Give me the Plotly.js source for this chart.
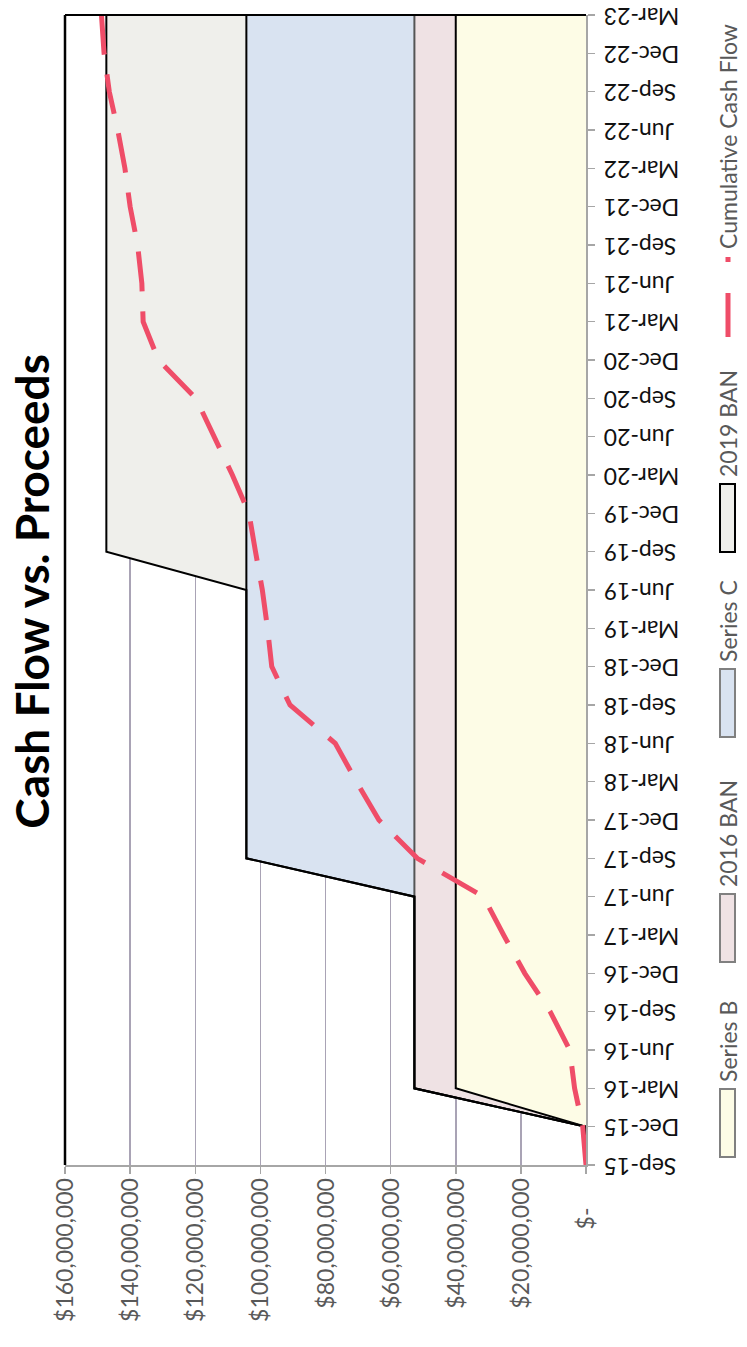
<!DOCTYPE html>
<html>
<head>
<meta charset="utf-8">
<script src="https://cdn.plot.ly/plotly-3.0.1.min.js"></script>
<style>
html,body{margin:0;padding:0;overflow:hidden;background:#fff;width:747px;height:1347px;}
#wrap{position:absolute;left:0;top:0;width:1347px;height:747px;transform-origin:0 0;transform:translate(0px,1347px) rotate(-90deg);}
#chart{width:1347px;height:747px;}
</style>
</head>
<body>
<div id="wrap"><div id="chart"></div></div>
<script>
// Quarter-end categories
const quarters = ["Sep-15","Dec-15","Mar-16","Jun-16","Sep-16","Dec-16","Mar-17","Jun-17","Sep-17","Dec-17",
  "Mar-18","Jun-18","Sep-18","Dec-18","Mar-19","Jun-19","Sep-19","Dec-19","Mar-20","Jun-20",
  "Sep-20","Dec-20","Mar-21","Jun-21","Sep-21","Dec-21","Mar-22","Jun-22","Sep-22","Dec-22","Mar-23"];

// Stacked proceeds (USD)
const seriesB = [0,0,40000000,40000000,40000000,40000000,40000000,40000000,40000000,40000000,
  40000000,40000000,40000000,40000000,40000000,40000000,40000000,40000000,40000000,40000000,
  40000000,40000000,40000000,40000000,40000000,40000000,40000000,40000000,40000000,40000000,40000000];
const ban2016 = [0,0,12700000,12700000,12700000,12700000,12700000,12700000,12700000,12700000,
  12700000,12700000,12700000,12700000,12700000,12700000,12700000,12700000,12700000,12700000,
  12700000,12700000,12700000,12700000,12700000,12700000,12700000,12700000,12700000,12700000,12700000];
const seriesC = [0,0,0,0,0,0,0,0,51600000,51600000,
  51600000,51600000,51600000,51600000,51600000,51600000,51600000,51600000,51600000,51600000,
  51600000,51600000,51600000,51600000,51600000,51600000,51600000,51600000,51600000,51600000,51600000];
const ban2019 = [0,0,0,0,0,0,0,0,0,0,
  0,0,0,0,0,0,43000000,43000000,43000000,43000000,
  43000000,43000000,43000000,43000000,43000000,43000000,43000000,43000000,43000000,43000000,43000000];

// Cumulative cash flow (USD)
const cumulative = [0,1000000,3500000,5000000,11000000,18800000,25300000,31500000,51800000,63600000,
  70500000,77000000,90900000,96500000,97800000,99400000,101500000,103500000,108600000,114200000,
  119800000,131300000,136000000,136400000,137700000,140000000,141600000,143800000,146400000,148000000,148800000];

// Value-axis ticks
const tickValues = [0,20000000,40000000,60000000,80000000,100000000,120000000,140000000,160000000];
const tickLabels = ["$-\u00a0\u00a0\u00a0\u00a0\u00a0","$20,000,000","$40,000,000","$60,000,000","$80,000,000",
  "$100,000,000","$120,000,000","$140,000,000","$160,000,000"];

const FONT = "Lato, 'Open Sans', sans-serif";
const RED = "#ef4d68";

const areaStyles = [
  {fill:"#fdfce6", line:"#000000", key:"#808080"},
  {fill:"#efe2e4", line:"#555555", key:"#808080"},
  {fill:"#d9e3f1", line:"#000000", key:"#808080"},
  {fill:"#efefeb", line:"#000000", key:"#000000"}
];
const areaNames = ["Series B","2016 BAN","Series C","2019 BAN"];
const areaData = [seriesB, ban2016, seriesC, ban2019];

const traces = areaData.map((d,i)=>({
  name:areaNames[i], x:quarters, y:d, type:"scatter", mode:"lines", stackgroup:"fin",
  fillcolor:areaStyles[i].fill, line:{color:areaStyles[i].line, width:2}, showlegend:false
}));
traces.push({name:"Cumulative Cash Flow", x:quarters, y:cumulative, type:"scatter", mode:"lines",
  line:{color:RED, width:5, dash:"40px,20px"}, showlegend:false});

// Layout geometry (chart is drawn landscape, then rotated)
const W=1347, H=747, M={l:182, r:15, t:65, b:161};
const pw=W-M.l-M.r, ph=H-M.t-M.b;
const px = u => (u-M.l)/pw;
const py = v => (H-M.b-v)/ph;

// Custom legend (keys + real-text labels)
const legendStarts = [190, 385, 610, 795];
const shapes = [
  {type:"line", xref:"paper", yref:"paper", x0:0, x1:1, y0:1, y1:1, line:{color:"#000000", width:2.5}},
  {type:"line", xref:"paper", yref:"paper", x0:1, x1:1, y0:0, y1:1, line:{color:"#000000", width:2}}
];
const annotations = [];
areaNames.forEach((n,i)=>{
  const u = legendStarts[i];
  shapes.push({type:"rect", xref:"paper", yref:"paper", x0:px(u), x1:px(u+68), y0:py(735), y1:py(720),
    fillcolor:areaStyles[i].fill, line:{color:areaStyles[i].key, width:2}});
  annotations.push({xref:"paper", yref:"paper", x:px(u+73), y:py(728), xanchor:"left", yanchor:"middle",
    text:n, showarrow:false, font:{family:FONT, size:23, color:"#595959"}});
});
shapes.push({type:"line", xref:"paper", yref:"paper", x0:px(1010), x1:px(1090), y0:py(728), y1:py(728),
  line:{color:RED, width:5, dash:"44px,31px"}});
annotations.push({xref:"paper", yref:"paper", x:px(1096), y:py(728), xanchor:"left", yanchor:"middle",
  text:"Cumulative Cash Flow", showarrow:false, font:{family:FONT, size:23, color:"#595959"}});

const layout = {
  width:W, height:H,
  paper_bgcolor:"#ffffff", plot_bgcolor:"#ffffff",
  margin:M,
  font:{family:FONT, color:"#595959"},
  showlegend:false,
  title:{text:"Cash Flow vs. Proceeds", font:{family:FONT, size:46, color:"#000000", weight:"bold"},
         x:0.561, xanchor:"center", xref:"container", y:0.956, yanchor:"middle", yref:"container"},
  xaxis:{type:"category", range:[0,30], showgrid:false, zeroline:false, automargin:false,
         showline:true, linecolor:"#a6a6a6", linewidth:1.5,
         ticks:"outside", ticklen:7, tickcolor:"#a6a6a6", tickwidth:1.5,
         tickangle:-90, tickfont:{family:FONT, size:23, color:"#111111"}},
  yaxis:{range:[0,160000000], tickmode:"array", tickvals:tickValues, ticktext:tickLabels, automargin:false,
         showgrid:true, gridcolor:"#a9a3b5", gridwidth:1.5, zeroline:false,
         showline:true, linecolor:"#a6a6a6", linewidth:1.5,
         ticks:"outside", ticklen:7, tickcolor:"#a6a6a6", tickwidth:1.5,
         tickfont:{family:FONT, size:23, color:"#595959"}},
  shapes:shapes,
  annotations:annotations,
  hovermode:false
};

Plotly.newPlot("chart", traces, layout, {staticPlot:true, displayModeBar:false});
</script>
</body>
</html>
